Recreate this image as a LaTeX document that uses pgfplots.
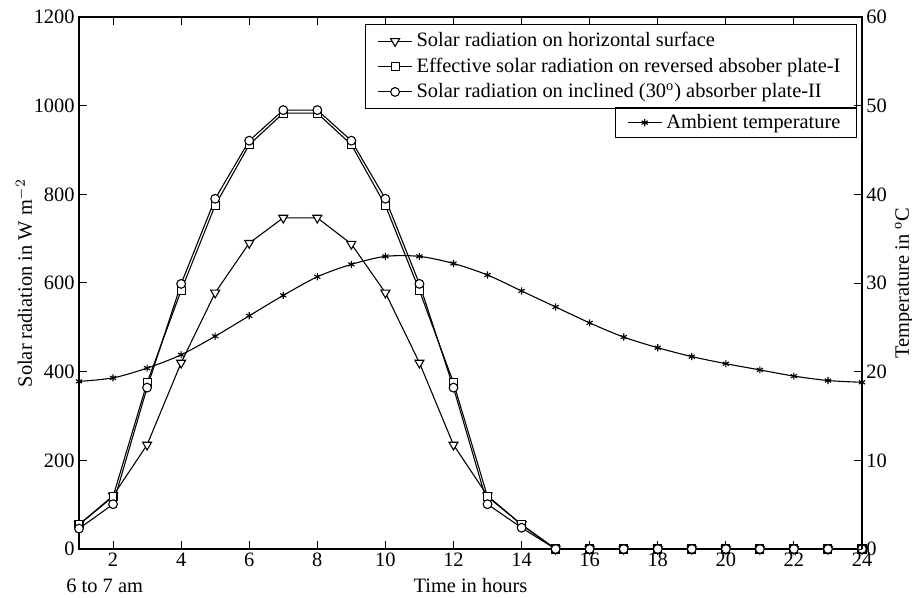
\documentclass[border=0pt]{standalone}
\usepackage{fontspec}
\setmainfont{Liberation Serif}
\usepackage{pgfplots}
\pgfplotsset{compat=1.18}
\begin{document}
\fontsize{10.25}{12.3}\selectfont
\begin{tikzpicture}
\pgfplotsset{
  every axis/.append style={
    scale only axis, width=391.5bp, height=266bp,
    xmin=1, xmax=24,
    /pgf/number format/assume math mode=true,
    /pgf/number format/1000 sep={},
    tick style={black, line width=0.5pt},
    tick align=inside,
    major tick length=4bp,
    axis line style={line width=0.9pt},
    every axis plot/.append style={line width=0.55pt, black},
    yticklabel style={inner sep=2pt},
    xticklabel style={inner sep=2pt},
  },
}
\begin{axis}[
  name=ax,
  ymin=0, ymax=1200,
  ytick={0,200,...,1200},
  xtick={2,4,...,24},
  ytick pos=left,
  xtick pos=both,
  ylabel={Solar radiation in W m$^{-2}$},
  ylabel style={at={(axis description cs:-0.0702,0.5)}, anchor=center, inner sep=0pt},
  xlabel={Time in hours},
  xlabel style={at={(axis description cs:0.5,-0.0677)}, anchor=center, inner sep=0pt},
  legend style={at={(rel axis cs:0.9936,0.987)}, anchor=north east, draw=black, line width=0.6pt, cells={anchor=west}, inner xsep=6bp, inner ysep=2bp, row sep=0bp},
  legend cell align=left,
  clip=false,
]
\addplot[mark=triangle*, mark options={solid, fill=white, rotate=180, scale=1.3}] coordinates {
(1,55)(2,120)(3,235)(4,420)(5,578)(6,690)(7,747)(8,747)(9,688)(10,578)(11,420)(12,235)(13,120)(14,55)(15,0)(16,0)(17,0)(18,0)(19,0)(20,0)(21,0)(22,0)(23,0)(24,0)};
\addlegendentry{Solar radiation on horizontal surface}
\addplot[mark=square*, mark options={solid, fill=white, scale=1.0}] coordinates {
(1,55)(2,118)(3,375)(4,583)(5,775)(6,912)(7,983)(8,983)(9,912)(10,775)(11,583)(12,375)(13,118)(14,55)(15,0)(16,0)(17,0)(18,0)(19,0)(20,0)(21,0)(22,0)(23,0)(24,0)};
\addlegendentry{Effective solar radiation on reversed absober plate-I}
\addplot[mark=*, mark options={solid, fill=white, scale=1.1}] coordinates {
(1,46)(2,101)(3,364)(4,598)(5,790)(6,921)(7,990)(8,990)(9,921)(10,790)(11,598)(12,364)(13,101)(14,48)(15,0)(16,0)(17,0)(18,0)(19,0)(20,0)(21,0)(22,0)(23,0)(24,0)};
\addlegendentry{Solar radiation on inclined (30\textsuperscript{o}) absorber plate-II}
\end{axis}
\begin{axis}[
  ymin=0, ymax=60,
  ytick={0,10,...,60},
  axis y line*=right,
  axis x line=none,
  ylabel={Temperature in $^{\mathrm{o}}$C},
  ylabel style={at={(axis description cs:1.0536,0.5)}, anchor=center, inner sep=0pt},
  legend style={at={(rel axis cs:0.9936,0.83)}, anchor=north east, draw=black, line width=0.6pt, cells={anchor=west}, inner xsep=6bp, inner ysep=1bp},
  legend cell align=left,
  clip=false,
]
\addplot[smooth, mark=asterisk, mark options={solid, scale=0.9}] coordinates {
(1,18.9)(2,19.3)(3,20.4)(4,21.9)(5,24.0)(6,26.3)(7,28.6)(8,30.7)(9,32.1)(10,33.0)(11,33.0)(12,32.2)(13,30.9)(14,29.1)(15,27.3)(16,25.5)(17,23.9)(18,22.7)(19,21.7)(20,20.9)(21,20.2)(22,19.5)(23,19.0)(24,18.8)};
\addlegendentry{Ambient temperature}
\node[anchor=west, inner sep=0pt] at ([xshift=-6.5bp, yshift=-18.5bp]rel axis cs:0,0) {6 to 7 am};
\end{axis}
\pgfresetboundingbox
\path ([shift={(-39.5bp,-24.5bp)}]ax.south west) rectangle ([shift={(25bp,8.5bp)}]ax.north east);
\end{tikzpicture}
\end{document}
